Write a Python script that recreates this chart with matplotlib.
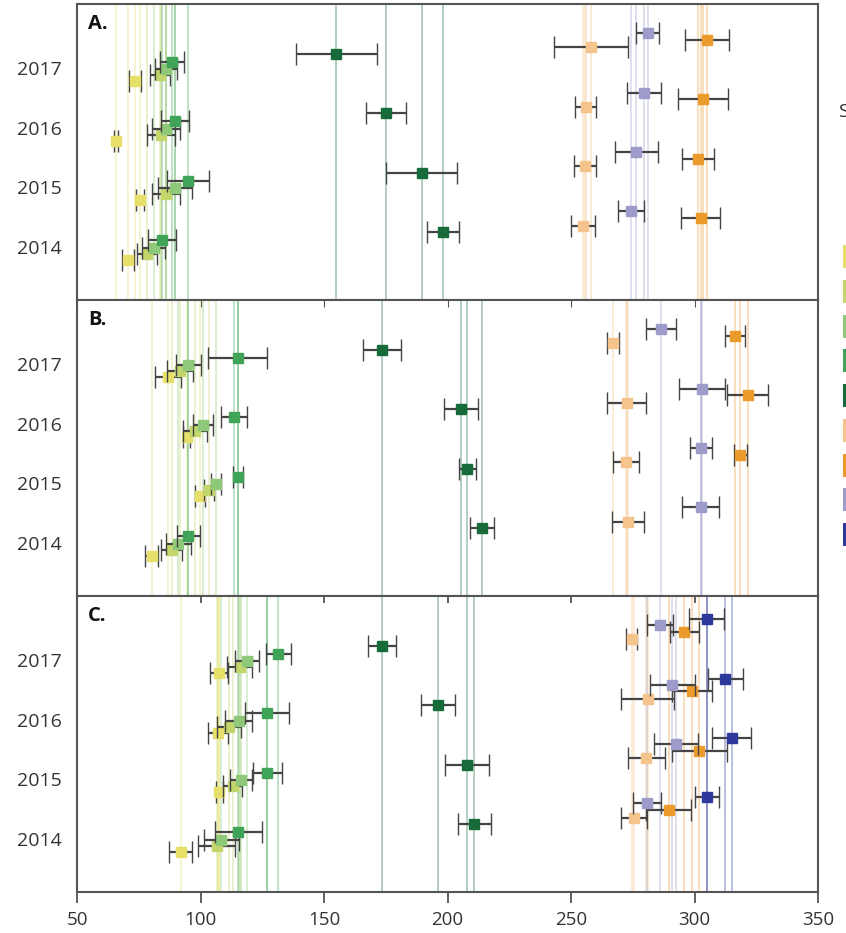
import numpy as np
import matplotlib
matplotlib.use("Agg")
import matplotlib.pyplot as plt
from matplotlib.patches import Patch

plt.rcParams['font.family'] = ['Open Sans', 'DejaVu Sans']

years = [2014, 2015, 2016, 2017]
panels = ["A.", "B.", "C."]
stages = ["Stage 1", "Stage 2", "Stage 3", "Stage 4", "Stage 5",
          "Stage 6", "Stage 7", "Stage 8", "Stage 9"]
stage_colors = ["#e6e06a", "#c2d66c", "#8ec97a", "#3fa457", "#176b3b",
                "#f4c48c", "#eb9a2c", "#9d9bca", "#2d3a9c"]
stage_offsets = [-0.22, -0.12, -0.02, 0.11, 0.24, 0.35, 0.48, 0.59, 0.69]

# values per panel: [stage][year 2014..2017]; None = missing
A_vals = [
    [70.6, 75.5, 65.8, 73.5],
    [78.3, 86.0, 84.0, 83.5],
    [81.0, 89.7, 86.0, 86.0],
    [84.4, 94.8, 89.7, 88.4],
    [198.0, 189.5, 175.0, 155.0],
    [255.0, 255.8, 256.0, 258.0],
    [302.5, 301.5, 303.5, 305.0],
    [274.3, 276.5, 279.5, 281.0],
    [None, None, None, None],
]
A_errs = [
    [2.4, 1.5, 0.8, 2.4],
    [4.0, 5.7, 5.8, 4.0],
    [4.5, 7.0, 5.8, 4.5],
    [5.6, 8.5, 5.6, 4.9],
    [6.5, 14.5, 8.0, 16.5],
    [4.8, 4.5, 4.2, 15.0],
    [7.8, 6.4, 10.0, 9.0],
    [5.4, 8.8, 6.8, 4.5],
    [None, None, None, None],
]
B_vals = [
    [80.2, 99.8, 94.4, 86.8],
    [88.3, 103.5, 97.8, 91.7],
    [91.0, 106.3, 101.1, 95.0],
    [95.0, 115.3, 113.5, 115.0],
    [214.0, 208.0, 205.5, 173.5],
    [273.0, 272.3, 272.5, 267.1],
    [None, 318.6, 321.5, 316.5],
    [302.5, 302.6, 303.0, 286.5],
    [None, None, None, None],
]
B_errs = [
    [2.5, 2.0, 1.5, 5.4],
    [4.4, 2.0, 4.8, 5.4],
    [5.0, 2.0, 4.0, 5.0],
    [4.7, 2.0, 5.2, 12.0],
    [4.7, 3.5, 7.0, 7.7],
    [6.4, 5.4, 8.0, 2.5],
    [None, 2.5, 8.2, 4.0],
    [7.6, 4.6, 9.3, 6.0],
    [None, None, None, None],
]
C_vals = [
    [92.0, 107.6, 107.2, 107.5],
    [106.6, 113.0, 111.5, 115.8],
    [108.5, 116.5, 115.5, 118.8],
    [115.3, 127.0, 127.0, 131.5],
    [210.8, 208.0, 196.2, 173.6],
    [275.5, 280.5, 281.0, 274.5],
    [289.5, 302.0, 299.0, 295.8],
    [280.8, 292.5, 291.0, 286.0],
    [305.0, 315.0, 312.5, 305.0],
]
C_errs = [
    [4.7, 1.5, 4.0, 3.6],
    [7.5, 4.0, 5.0, 5.0],
    [7.0, 4.5, 5.5, 5.0],
    [9.5, 5.9, 8.9, 5.0],
    [6.7, 9.0, 7.0, 5.7],
    [5.3, 7.5, 10.8, 2.3],
    [9.0, 11.3, 8.2, 5.9],
    [5.5, 9.0, 9.1, 5.2],
    [5.0, 8.0, 7.2, 7.1],
]
all_vals = [A_vals, B_vals, C_vals]
all_errs = [A_errs, B_errs, C_errs]

xticks = [50, 100, 150, 200, 250, 300, 350]

W, H = 846, 933
fig = plt.figure(figsize=(W / 100, H / 100), dpi=100)
left, right = 77 / W, 818 / W
top_px, bot_px = 4, 892
ph = (bot_px - top_px) / 3
spine_c = "#555555"

axes = []
for i in range(3):
    y0 = 1 - (top_px + (i + 1) * ph) / H
    ax = fig.add_axes([left, y0, right - left, ph / H])
    axes.append(ax)
    vals, errs = all_vals[i], all_errs[i]
    # vertical lines
    for s in range(len(stages)):
        for yi, yr in enumerate(years):
            v = vals[s][yi]
            if v is None:
                continue
            ax.axvline(v, color=stage_colors[s], alpha=0.35, lw=1.3, zorder=1)
    # points
    for s in range(len(stages)):
        for yi, yr in enumerate(years):
            v = vals[s][yi]
            if v is None:
                continue
            ax.errorbar([v], [yr + stage_offsets[s]], xerr=[errs[s][yi]],
                        fmt='s', color=stage_colors[s], ms=7.5,
                        markeredgecolor=stage_colors[s], markeredgewidth=1,
                        ecolor="#444444", elinewidth=1.6, capsize=8,
                        capthick=1.7, zorder=3 + s)
    ax.set_xlim(50, 350)
    ax.set_ylim(2013.1, 2018.08)
    ax.set_yticks(years)
    ax.set_yticklabels([str(y) for y in years], fontsize=14, color="#333333")
    ax.tick_params(axis='y', length=0, pad=11)
    ax.set_xticks(xticks)
    for sp in ax.spines.values():
        sp.set_color(spine_c)
        sp.set_linewidth(1.5)
    if i < 2:
        ax.tick_params(axis='x', which='both', bottom=False, labelbottom=False,
                       top=(i > 0), direction='in', length=5, color=spine_c)
    else:
        ax.tick_params(axis='x', which='both', bottom=True, labelbottom=True,
                       top=True, direction='out', length=8, width=1.3,
                       color=spine_c, labelsize=13.5, labelcolor="#333333", pad=6)
    ax.text(0.015, 0.965, panels[i], transform=ax.transAxes, fontsize=14.5,
            fontweight='bold', va='top', ha='left', color="#111111")

# C top ticks inward
for t in axes[2].xaxis.get_major_ticks():
    t.tick2line.set_marker(3)
    t.tick2line.set_markersize(5)

handles = [Patch(facecolor=c, edgecolor='none') for c in stage_colors]
fig.legend(handles, [""] * len(stages), loc='upper left',
           bbox_to_anchor=(843 / W, 1 - 245 / H), frameon=False,
           borderpad=0, borderaxespad=0, fontsize=14,
           handlelength=1.5, handleheight=1.45, labelspacing=0.6)
fig.text(838 / W, 1 - 112 / H, "Stage", fontsize=14, va='center', ha='left',
         color="#333333")

fig.savefig("out.png", dpi=100)
